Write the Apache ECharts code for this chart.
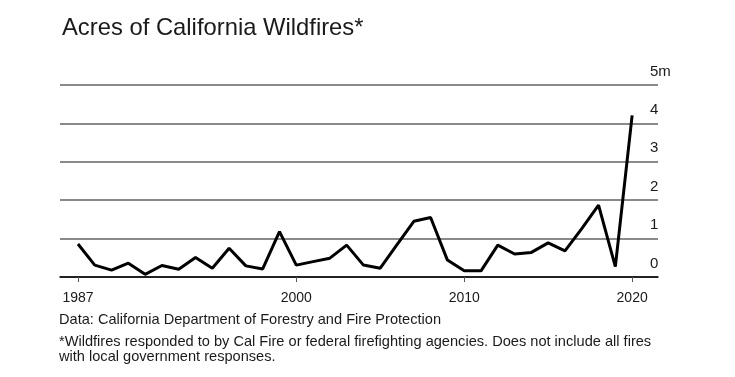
<!DOCTYPE html>
<html>
<head>
<meta charset="utf-8">
<script src="https://cdn.jsdelivr.net/npm/echarts@6/dist/echarts.min.js"></script>
<style>
  html, body { margin: 0; padding: 0; background: #fff; }
  #chart { width: 735px; height: 377px; }
</style>
</head>
<body>
<div id="chart"></div>
<script>
// years and acres burned (millions)
const years = [1987, 1988, 1989, 1990, 1991, 1992, 1993, 1994, 1995, 1996, 1997,
  1998, 1999, 2000, 2001, 2002, 2003, 2004, 2005, 2006, 2007, 2008, 2009, 2010,
  2011, 2012, 2013, 2014, 2015, 2016, 2017, 2018, 2019, 2020];
const acres = [0.86, 0.31, 0.18, 0.36, 0.07, 0.30, 0.20, 0.51, 0.23, 0.75, 0.29,
  0.21, 1.18, 0.31, 0.40, 0.49, 0.83, 0.31, 0.23, 0.84, 1.45, 1.55, 0.44, 0.16,
  0.16, 0.83, 0.60, 0.64, 0.89, 0.68, 1.26, 1.87, 0.27, 4.21];
const xTicks = [1987, 2000, 2010, 2020];
const yTicks = [0, 1, 2, 3, 4, 5];

const font = '"Liberation Sans", Arial, Helvetica, sans-serif';
const chart = echarts.init(document.getElementById('chart'));

const option = {
  backgroundColor: '#fff',
  animation: false,
  title: {
    text: 'Acres of California Wildfires*',
    left: 57,
    top: 11,
    textStyle: {
      fontFamily: font,
      fontSize: 23.8,
      fontWeight: 'normal',
      color: '#1a1a1a'
    }
  },
  grid: {
    left: 60,
    right: 77,
    top: 85,
    bottom: 100
  },
  xAxis: {
    type: 'value',
    min: 1985.93,
    max: 2021.54,
    splitLine: { show: false },
    axisLine: { lineStyle: { color: '#000', width: 1.5 } },
    axisTick: {
      customValues: xTicks,
      length: 5,
      lineStyle: { color: '#555' }
    },
    axisLabel: {
      customValues: xTicks,
      margin: 14,
      fontFamily: font,
      fontSize: 14,
      color: '#1a1a1a',
      formatter: function (v) { return String(v) }
    }
  },
  yAxis: {
    type: 'value',
    position: 'right',
    min: 0,
    max: 5,
    interval: 1,
    axisLine: { show: false },
    axisTick: { show: false },
    splitLine: { lineStyle: { color: '#8a8a8a', width: 2 } },
    axisLabel: {
      margin: -8,
      align: 'left',
      verticalAlign: 'bottom',
      padding: [0, 0, 6, 0],
      fontFamily: font,
      fontSize: 15,
      color: '#1a1a1a',
      formatter: function (v) { return v === 5 ? '5m' : String(v) }
    }
  },
  series: [{
    type: 'line',
    data: years.map(function (y, i) { return [y, acres[i]] }),
    symbol: 'none',
    lineStyle: { color: '#000', width: 3 },
    z: 5
  }],
  graphic: [
    {
      type: 'text',
      left: 59,
      top: 312,
      style: {
        text: 'Data: California Department of Forestry and Fire Protection',
        font: '14.6px ' + font,
        fill: '#1a1a1a'
      }
    },
    {
      type: 'text',
      left: 59,
      top: 334,
      style: {
        text: '*Wildfires responded to by Cal Fire or federal firefighting agencies. Does not include all fires\nwith local government responses.',
        font: '14.6px ' + font,
        lineHeight: 15,
        fill: '#1a1a1a'
      }
    }
  ]
};

chart.setOption(option);
</script>
</body>
</html>
